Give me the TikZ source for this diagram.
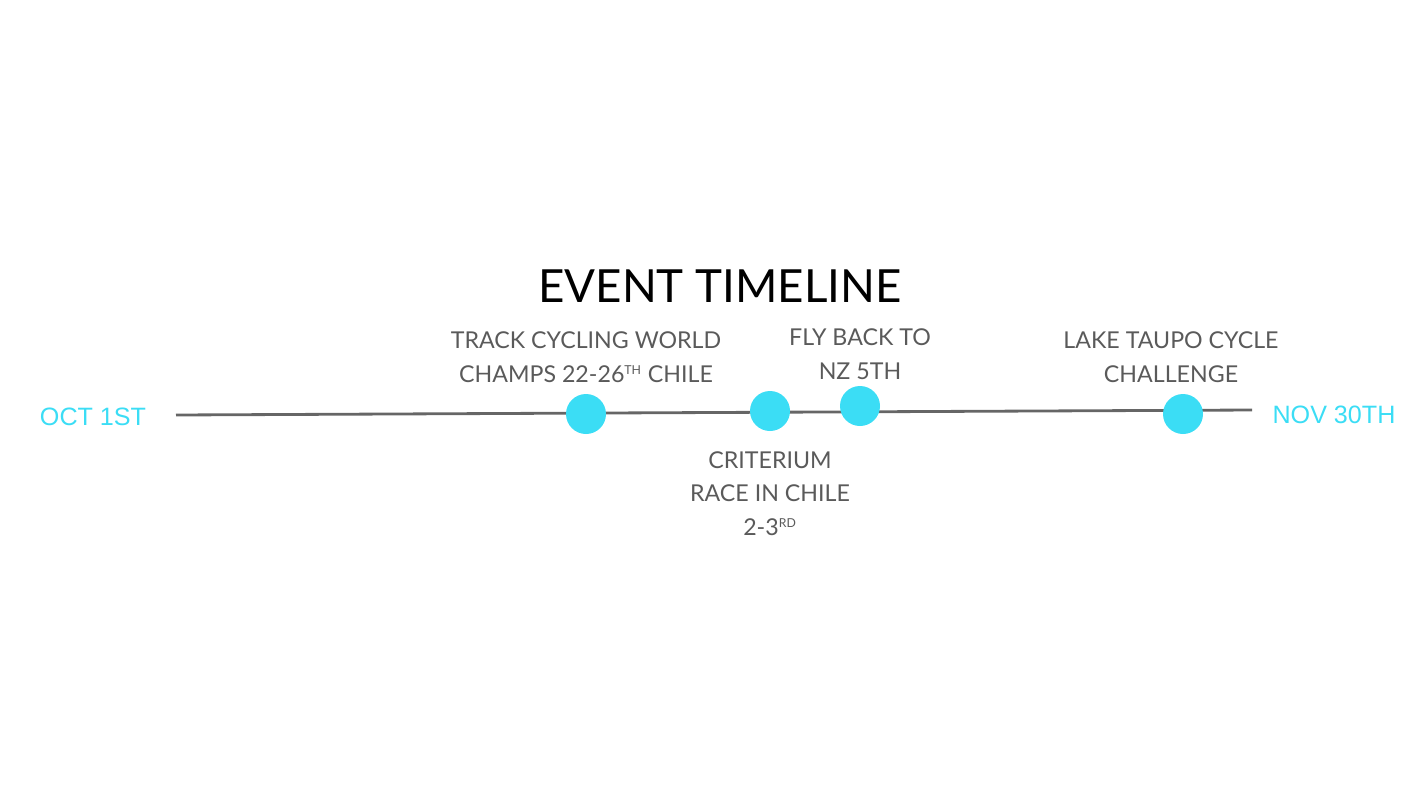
\documentclass[tikz,border=0pt]{standalone}
\usepackage{fontspec}
\setmainfont{Lato}
\newfontfamily\datefont{Liberation Sans}
\usetikzlibrary{positioning}
\definecolor{dotcyan}{HTML}{3BDDF5}
\definecolor{linegray}{HTML}{666666}
\definecolor{textgray}{HTML}{5A5A5A}
\begin{document}
\begin{tikzpicture}[x=0.02cm, y=-0.02cm,
  eventdot/.style={circle, fill=dotcyan, minimum size=0.8cm, inner sep=0pt},
  eventlabel/.style={text=textgray, align=center, inner sep=0pt,
    font=\fontsize{13.2}{19.2}\selectfont},
  datelabel/.style={text=dotcyan, inner sep=0pt, anchor=base,
    font=\datefont\fontsize{14.3}{17}\selectfont}]
\useasboundingbox (0,0) rectangle (1414,795);
% title
\node[anchor=base, inner sep=0pt, font=\fontsize{26}{32}\selectfont] (title) at (720,302) {EVENT TIMELINE};
% the time axis
\coordinate (start) at (176,415);
\coordinate (end) at (1252,410);
\draw[linegray, line width=1.6pt] (start) -- (end);
\node[datelabel] (oct) at (93,425) {OCT 1ST};
\node[datelabel] (nov) at (1334,423) {NOV 30TH};
% events
\node[eventdot] (track) at (586,414) {};
\node[eventdot] (crit) at (770,411) {};
\node[eventdot] (fly) at (860,406) {};
\node[eventdot] (taupo) at (1183,414) {};
\node[eventlabel, anchor=south] (tracktext) at (586,383) {TRACK CYCLING WORLD\\CHAMPS 22-26\textsuperscript{\scriptsize TH} CHILE};
\node[eventlabel, anchor=north] (crittext) at (770,451) {CRITERIUM\\RACE IN CHILE\\2-3\textsuperscript{\scriptsize RD}};
\node[eventlabel, anchor=south] (flytext) at (860,380) {FLY BACK TO\\NZ 5TH};
\node[eventlabel, anchor=south] (taupotext) at (1171,383) {LAKE TAUPO CYCLE\\CHALLENGE};
\end{tikzpicture}
\end{document}
